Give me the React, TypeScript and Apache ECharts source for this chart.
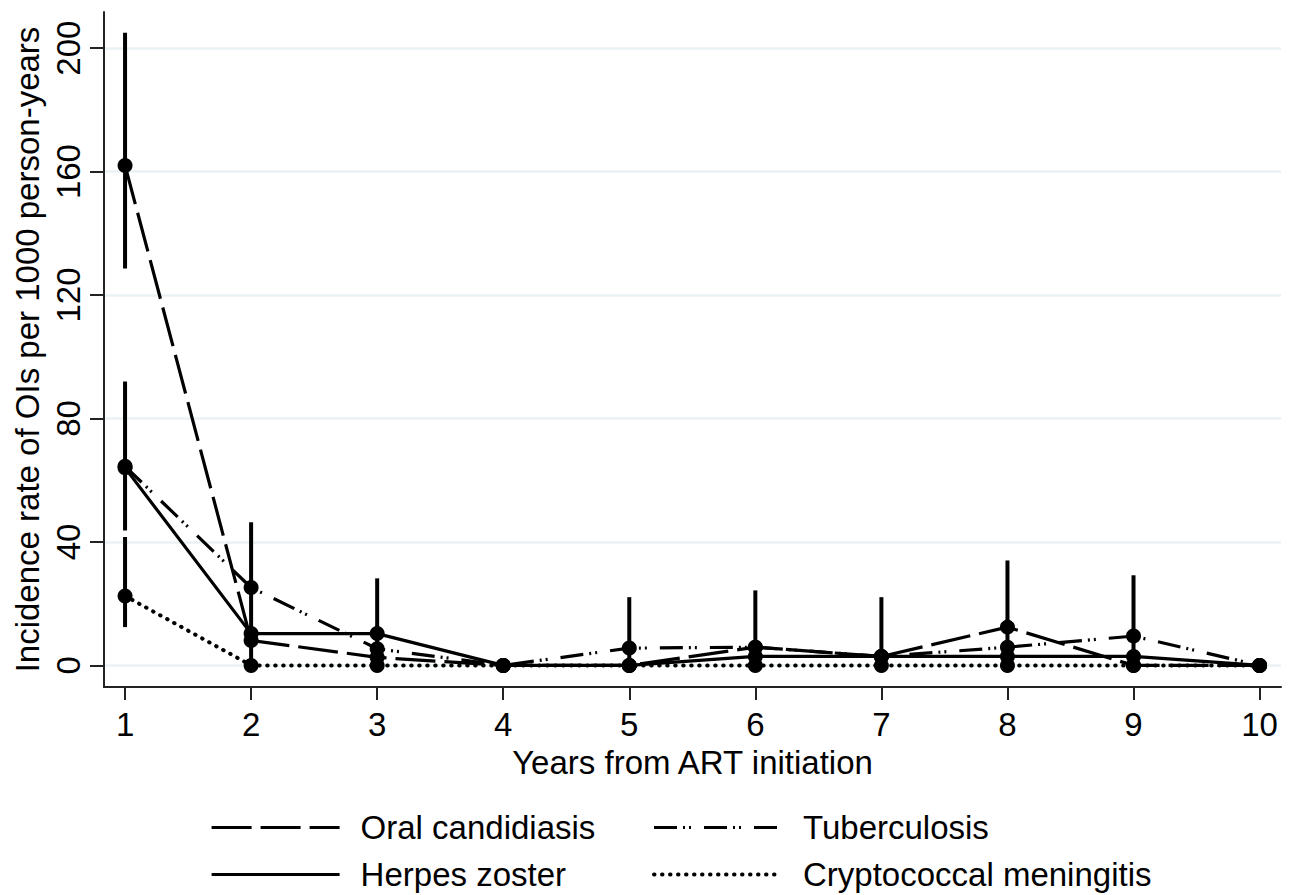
import React, { useEffect, useRef } from "react";
import * as echarts from "echarts";

const years = [1, 2, 3, 4, 5, 6, 7, 8, 9, 10];
const oralCandidiasis = [162, 8.1, 2.6, 0, 0, 5.9, 2.9, 12.4, 0, 0];
const tuberculosis = [64.5, 25.2, 5.4, 0, 5.6, 5.9, 2.9, 5.9, 9.5, 0];
const herpesZoster = [64, 10.3, 10.3, 0, 0, 2.9, 2.9, 2.9, 2.9, 0];
const cryptococcal = [22.5, 0, 0, 0, 0, 0, 0, 0, 0, 0];

// confidence-interval bars: x position, lower, upper
const ciX = [1, 1, 1, 2, 3, 5, 6, 7, 8, 9];
const ciLow = [128.6, 43.7, 12.4, 0, 0, 0, 0, 0, 0, 0];
const ciHigh = [205, 92, 41.6, 46.4, 28.2, 22.1, 24.3, 22.1, 34, 29.2];

const yTicks = [0, 40, 80, 120, 160, 200];
const xTicks = years;

const FONT = "'Liberation Sans', Arial, Helvetica, sans-serif";

export default function App() {
  const ref = useRef<HTMLDivElement>(null);
  useEffect(() => {
    if (!ref.current) return;
    const chart = echarts.init(ref.current, undefined, { renderer: "svg" });
    const pts = (arr: number[]) => years.map((x, i) => [x, arr[i]]);
    const lineSeries = (name: string, arr: number[], type: any, extra: any = {}) => ({
      name,
      type: "line",
      data: pts(arr),
      symbol: "circle",
      symbolSize: 15,
      itemStyle: { color: "#000" },
      lineStyle: { color: "#000", width: 3.2, type, ...extra },
      z: 3,
    });
    const legendCommon = {
      orient: "vertical",
      itemWidth: 128,
      itemHeight: 2,
      itemGap: 14,
      padding: 0,
      height: 82,
      selectedMode: false,
      lineStyle: { width: 3.2 },
      textStyle: {
        fontFamily: FONT,
        fontSize: 33,
        color: "#000",
        lineHeight: 33,
        padding: [0, 0, 0, 16],
      },
    };
    chart.setOption({
      animation: false,
      backgroundColor: "#fff",
      textStyle: { fontFamily: FONT },
      grid: { left: 104, right: 10, top: 12, bottom: 208, containLabel: false, outerBoundsMode: "none" },
      legend: [
        { ...legendCommon, left: 210, top: 811, data: ["Oral candidiasis", "Herpes zoster"] },
        {
          ...legendCommon,
          left: 652,
          top: 811,
          data: ["Tuberculosis", { name: "Cryptococcal meningitis", lineStyle: { width: 4 } }],
        },
      ],
      xAxis: {
        type: "value",
        min: 0.833,
        max: 10.17,
        name: "Years from ART initiation",
        nameLocation: "middle",
        nameGap: 54,
        nameTextStyle: { fontFamily: FONT, fontSize: 33, color: "#000", lineHeight: 33 },
        axisLine: { show: true, onZero: false, lineStyle: { color: "#222", width: 2 } },
        axisTick: { show: true, inside: false, length: 13, customValues: xTicks, lineStyle: { color: "#222", width: 2 } },
        axisLabel: { customValues: xTicks, fontFamily: FONT, fontSize: 33, color: "#000", margin: 21, lineHeight: 33 },
        splitLine: { show: false },
      },
      yAxis: {
        type: "value",
        min: -7,
        max: 211.7,
        name: "Incidence rate of OIs per 1000 person-years",
        nameLocation: "middle",
        nameGap: 58,
        nameTextStyle: { fontFamily: FONT, fontSize: 33, color: "#000", lineHeight: 33 },
        axisLine: { show: true, onZero: false, lineStyle: { color: "#222", width: 2 } },
        axisTick: { show: true, inside: false, length: 14, customValues: yTicks, lineStyle: { color: "#222", width: 2 } },
        axisLabel: { customValues: yTicks, rotate: 90, fontFamily: FONT, fontSize: 33, color: "#000", margin: 19, lineHeight: 33 },
        splitLine: { show: true, lineStyle: { color: "#EAF2F3", width: 2.5 } },
      },
      series: [
        {
          name: "CI",
          type: "custom",
          data: ciX.map((x, i) => [x, ciLow[i], ciHigh[i]]),
          encode: { x: 0, y: [1, 2] },
          z: 2,
          renderItem: (_params: any, api: any) => {
            const p1 = api.coord([api.value(0), api.value(1)]);
            const p2 = api.coord([api.value(0), api.value(2)]);
            return {
              type: "line",
              shape: { x1: p1[0], y1: p1[1], x2: p2[0], y2: p2[1] },
              style: { stroke: "#000", lineWidth: 4 },
            };
          },
        },
        lineSeries("Oral candidiasis", oralCandidiasis, [40, 9]),
        lineSeries("Herpes zoster", herpesZoster, "solid"),
        lineSeries("Tuberculosis", tuberculosis, [23, 6, 2, 4, 2, 13]),
        lineSeries("Cryptococcal meningitis", cryptococcal, [0.5, 7.5], { cap: "round", width: 4 }),
      ],
    });
    return () => chart.dispose();
  }, []);
  return (
    <div
      ref={ref}
      style={{ position: "fixed", left: 0, top: 0, width: 1291, height: 895, background: "#fff" }}
    />
  );
}
